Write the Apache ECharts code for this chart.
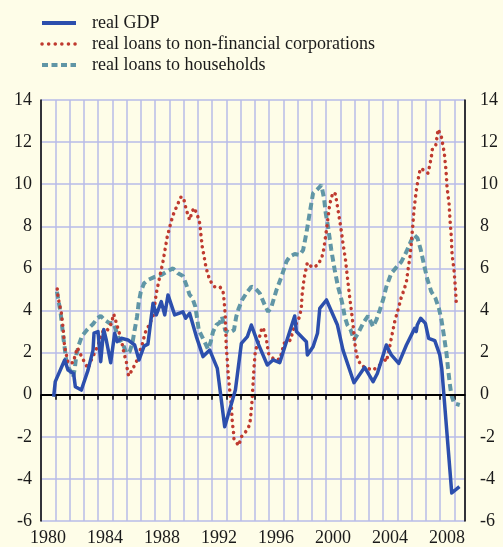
<!DOCTYPE html>
<html>
<head>
<meta charset="utf-8">
<script src="https://cdn.jsdelivr.net/npm/echarts@6/dist/echarts.min.js"></script>
<style>
    html, body { margin: 0; padding: 0; background: #fefde8; }
    #chart { width: 503px; height: 547px; }
</style>
</head>
<body>
<div id="chart"></div>
<script>
    // year labels shown on the x axis
    var yearLabels = [1980, 1984, 1988, 1992, 1996, 2000, 2004, 2008];
    var seriesNames = ["real GDP", "real loans to non-financial corporations", "real loans to households"];

    // [year, % y/y]
    var gdp = [
        [1980.89, -0.1], [1981.0, 0.62], [1981.66, 1.65], [1981.9, 1.17], [1982.29, 1.0], [1982.41, 0.38],
        [1982.83, 0.22], [1983.3, 1.17], [1983.65, 2.12], [1983.72, 2.92], [1984.0, 3.0], [1984.19, 1.57],
        [1984.4, 3.1], [1984.58, 2.6], [1984.89, 1.52], [1985.17, 2.92], [1985.35, 2.52], [1985.64, 2.68],
        [1986.1, 2.6], [1986.57, 2.36], [1986.88, 1.65], [1987.23, 2.31], [1987.5, 2.4], [1987.86, 4.34],
        [1988.09, 3.79], [1988.44, 4.42], [1988.68, 3.79], [1988.91, 4.74], [1989.38, 3.79], [1989.96, 3.94],
        [1990.15, 3.63], [1990.43, 3.87], [1990.9, 2.76], [1991.37, 1.81], [1991.84, 2.12], [1992.37, 1.25],
        [1992.89, -1.52], [1993.64, 0.22], [1994.06, 2.44], [1994.48, 2.76], [1994.76, 3.31], [1995.23, 2.44],
        [1995.88, 1.41], [1996.28, 1.65], [1996.75, 1.52], [1997.8, 3.74], [1997.92, 3.0], [1998.62, 2.52],
        [1998.69, 1.89], [1999.09, 2.28], [1999.4, 2.92], [1999.56, 4.1], [2000.03, 4.5], [2000.8, 3.31],
        [2001.19, 2.12], [2001.96, 0.57], [2002.71, 1.3], [2003.3, 0.62], [2003.6, 1.01], [2004.23, 2.36],
        [2004.58, 1.89], [2005.1, 1.49], [2005.64, 2.36], [2006.22, 3.15], [2006.33, 3.0], [2006.4, 3.31],
        [2006.64, 3.63], [2006.97, 3.39], [2007.2, 2.68], [2007.63, 2.57], [2007.98, 1.89], [2008.12, 1.25],
        [2008.82, -4.67], [2009.36, -4.37]
    ];

    var loansNfc = [
        [1981.14, 5.02], [1981.2, 4.61], [1981.43, 3.87], [1981.54, 3.23], [1981.66, 2.28], [1981.78, 1.89],
        [1981.9, 1.49], [1982.25, 1.52], [1982.41, 1.89], [1982.55, 2.23], [1982.79, 1.89], [1983.07, 1.52],
        [1983.3, 1.25], [1983.53, 1.65], [1983.77, 2.0], [1984.0, 2.36], [1984.19, 2.73], [1984.38, 3.07],
        [1984.66, 3.07], [1984.94, 3.39], [1985.1, 3.83], [1985.26, 3.47], [1985.43, 3.07], [1985.64, 2.6],
        [1985.82, 1.97], [1985.99, 1.57], [1986.06, 1.17], [1986.15, 0.89], [1986.43, 1.22], [1986.71, 1.6],
        [1986.87, 1.97], [1987.09, 2.36], [1987.32, 2.96], [1987.58, 3.31], [1987.86, 3.71], [1988.09, 4.82],
        [1988.33, 5.6], [1988.56, 6.32], [1988.72, 6.95], [1988.86, 7.51], [1989.01, 7.9], [1989.15, 8.27],
        [1989.33, 8.65], [1989.57, 9.01], [1989.8, 9.38], [1989.99, 9.38], [1990.13, 8.96], [1990.27, 8.62],
        [1990.43, 8.3], [1990.6, 8.69], [1990.74, 8.88], [1990.97, 8.54], [1991.14, 8.14], [1991.2, 7.74],
        [1991.32, 7.0], [1991.44, 6.59], [1991.53, 6.21], [1991.67, 5.81], [1991.84, 5.45], [1992.14, 5.13],
        [1992.54, 5.13], [1992.77, 4.94], [1992.84, 4.53], [1992.93, 3.79], [1993.0, 2.28], [1993.07, 1.65],
        [1993.13, 1.01], [1993.24, 0.22], [1993.36, -0.57], [1993.43, -1.36], [1993.5, -1.71], [1993.54, -2.1],
        [1993.87, -2.42], [1994.06, -2.0], [1994.36, -1.76], [1994.64, -1.44], [1994.71, -1.04], [1994.81, -0.25],
        [1994.88, 0.54], [1994.95, 1.33], [1995.04, 2.09], [1995.23, 2.47], [1995.51, 3.2], [1995.62, 3.1],
        [1995.81, 2.68], [1995.88, 2.31], [1995.98, 1.93], [1996.35, 1.68], [1996.75, 1.68], [1996.91, 2.04],
        [1997.05, 2.44], [1997.52, 2.6], [1997.68, 3.07], [1997.92, 3.39], [1998.15, 3.71], [1998.27, 4.18],
        [1998.32, 4.74], [1998.46, 5.53], [1998.58, 5.92], [1998.69, 6.27], [1999.02, 6.05], [1999.44, 6.16],
        [1999.72, 6.56], [1999.84, 6.91], [2000.03, 7.82], [2000.21, 8.81], [2000.33, 9.25], [2000.49, 9.61],
        [2000.66, 9.53], [2000.84, 8.77], [2001.03, 7.98], [2001.19, 7.19], [2001.36, 6.43], [2001.5, 5.58],
        [2001.64, 4.74], [2001.78, 3.99], [2001.91, 3.23], [2002.01, 2.52], [2002.09, 2.09], [2002.2, 1.73],
        [2002.44, 1.41], [2002.71, 1.3], [2003.3, 1.17], [2003.77, 1.41], [2004.0, 1.78], [2004.23, 1.57],
        [2004.4, 2.04], [2004.58, 2.68], [2004.82, 3.47], [2004.98, 3.87], [2005.14, 4.26], [2005.29, 4.66],
        [2005.47, 4.97], [2005.64, 5.37], [2005.71, 5.72], [2005.78, 6.08], [2005.88, 6.48], [2005.99, 7.27],
        [2006.09, 8.06], [2006.18, 8.85], [2006.32, 9.64], [2006.42, 10.07], [2006.53, 10.48], [2006.63, 10.75],
        [2006.86, 10.67], [2007.16, 10.52], [2007.28, 10.91], [2007.39, 11.31], [2007.46, 11.66], [2007.7, 11.86],
        [2007.79, 12.26], [2007.86, 12.61], [2007.95, 12.6], [2008.09, 12.26], [2008.3, 11.47], [2008.42, 10.64],
        [2008.49, 9.85], [2008.63, 9.09], [2008.7, 8.3], [2008.79, 7.51], [2008.84, 6.68], [2008.98, 5.92],
        [2009.07, 5.13], [2009.14, 4.34]
    ];

    var loansHh = [
        [1981.12, 4.89], [1981.38, 3.87], [1981.59, 2.6], [1981.71, 1.97], [1981.81, 1.41], [1982.13, 1.05],
        [1982.25, 0.83], [1982.37, 1.25], [1982.48, 1.89], [1982.65, 2.36], [1982.88, 2.79], [1983.25, 3.1],
        [1983.65, 3.36], [1983.95, 3.63], [1984.19, 3.74], [1984.47, 3.55], [1984.82, 3.39], [1985.05, 3.42],
        [1985.22, 3.15], [1985.4, 2.76], [1985.82, 2.28], [1986.0, 1.97], [1986.22, 2.04], [1986.41, 2.44],
        [1986.57, 3.07], [1986.74, 3.71], [1986.85, 4.34], [1987.0, 4.89], [1987.23, 5.29], [1987.51, 5.45],
        [1987.98, 5.6], [1988.44, 5.69], [1988.91, 5.88], [1989.26, 6.0], [1989.61, 5.77], [1989.96, 5.64],
        [1990.2, 5.21], [1990.43, 4.74], [1990.6, 4.63], [1990.83, 4.18], [1990.97, 3.55], [1991.07, 3.07],
        [1991.3, 2.76], [1991.53, 2.44], [1991.72, 2.16], [1991.91, 2.52], [1992.07, 2.99], [1992.3, 3.31],
        [1992.54, 3.42], [1992.7, 3.71], [1992.93, 3.04], [1993.24, 2.95], [1993.54, 3.07], [1993.7, 3.71],
        [1993.87, 4.1], [1994.11, 4.5], [1994.41, 4.82], [1994.76, 5.13], [1995.04, 5.05], [1995.35, 4.82],
        [1995.7, 4.26], [1995.94, 3.94], [1996.17, 4.18], [1996.52, 4.97], [1996.87, 5.6], [1997.22, 6.32],
        [1997.45, 6.56], [1997.8, 6.68], [1998.15, 6.64], [1998.39, 6.87], [1998.62, 7.67], [1998.85, 8.62],
        [1999.09, 9.57], [1999.4, 9.76], [1999.67, 9.96], [1999.86, 9.33], [1999.98, 8.62], [2000.14, 7.98],
        [2000.37, 6.87], [2000.61, 5.92], [2000.84, 5.13], [2001.03, 4.66], [2001.19, 4.18], [2001.31, 3.71],
        [2001.5, 3.31], [2001.73, 3.07], [2001.96, 2.6], [2002.25, 2.92], [2002.6, 3.39], [2002.95, 3.75],
        [2003.3, 3.23], [2003.53, 3.55], [2003.77, 4.02], [2004.0, 4.5], [2004.23, 5.13], [2004.58, 5.77],
        [2004.93, 6.05], [2005.29, 6.32], [2005.64, 6.79], [2005.94, 7.27], [2006.18, 7.59], [2006.42, 7.43],
        [2006.65, 6.87], [2006.88, 6.16], [2007.12, 5.45], [2007.39, 4.89], [2007.68, 4.58], [2007.92, 4.1],
        [2008.1, 3.55], [2008.28, 2.76], [2008.45, 1.97], [2008.56, 1.25], [2008.68, 0.54], [2008.79, -0.01],
        [2008.98, -0.41], [2009.38, -0.49]
    ];

    var colors = ["#2c4fad", "#bf3a2f", "#6096a6"];
    var font = "Liberation Serif";
    var chart = echarts.init(document.getElementById("chart"));

    var yAxisBase = {
        type: "value",
        min: -6,
        max: 14,
        interval: 2,
        axisLine: { show: true, lineStyle: { color: "#000", width: 1.5 } },
        axisTick: { show: false },
        axisLabel: { color: "#1a1a1a", fontFamily: font, fontSize: 18 }
    };

    var option = {
        backgroundColor: "#fefde8",
        animation: false,
        legend: {
            orient: "vertical",
            left: 40,
            top: 14,
            padding: 0,
            itemWidth: 34,
            itemHeight: 14,
            itemGap: 3,
            data: [
                { name: seriesNames[0], lineStyle: { width: 4, color: colors[0] } },
                { name: seriesNames[1], lineStyle: { width: 3.5, color: colors[1], type: [0.1, 6.5], cap: "round" } },
                { name: seriesNames[2], lineStyle: { width: 4, color: colors[2], type: [6, 3.5] } }
            ],
            itemStyle: { opacity: 0 },
            textStyle: { color: "#1a1a1a", fontFamily: font, fontSize: 18, padding: [0, 0, 0, 11] }
        },
        grid: { left: 41, right: 38, top: 100, bottom: 26 },
        xAxis: {
            type: "value",
            min: 1980,
            max: 2009.75,
            interval: 1,
            axisLine: { show: true, lineStyle: { color: "#000", width: 1.5 } },
            axisTick: { show: true, length: 5, lineStyle: { color: "#000", width: 1.5 } },
            axisLabel: {
                color: "#1a1a1a",
                fontFamily: font,
                fontSize: 18,
                margin: 8,
                padding: [0, 0, 0, 14],
                showMinLabel: true,
                showMaxLabel: false,
                formatter: function (v) {
                    return yearLabels.indexOf(v) >= 0 ? String(v) : "";
                }
            },
            splitLine: { show: true, lineStyle: { color: "#b7bbe9", width: 1.5 } }
        },
        yAxis: [
            Object.assign({}, yAxisBase, {
                position: "left",
                axisLabel: Object.assign({}, yAxisBase.axisLabel, { margin: 9 }),
                splitLine: { show: true, lineStyle: { color: "#b7bbe9", width: 1.5 } }
            }),
            Object.assign({}, yAxisBase, {
                position: "right",
                axisLabel: Object.assign({}, yAxisBase.axisLabel, { margin: 15 }),
                splitLine: { show: false }
            })
        ],
        series: [
            {
                name: seriesNames[0],
                type: "line",
                data: gdp,
                symbol: "none",
                z: 5,
                lineStyle: { color: colors[0], width: 3.5, join: "round" },
                itemStyle: { color: colors[0] },
                markLine: {
                    silent: true,
                    symbol: "none",
                    label: { show: false },
                    lineStyle: { color: "#000", width: 2, type: "solid" },
                    data: [{ yAxis: 0 }]
                }
            },
            {
                name: seriesNames[1],
                type: "line",
                data: loansNfc,
                symbol: "none",
                z: 4,
                lineStyle: { color: colors[1], width: 3.5, type: [0.1, 6], cap: "round" },
                itemStyle: { color: colors[1] }
            },
            {
                name: seriesNames[2],
                type: "line",
                data: loansHh,
                symbol: "none",
                z: 3,
                lineStyle: { color: colors[2], width: 4, type: [7, 4] },
                itemStyle: { color: colors[2] }
            }
        ]
    };

    chart.setOption(option);
</script>
</body>
</html>
